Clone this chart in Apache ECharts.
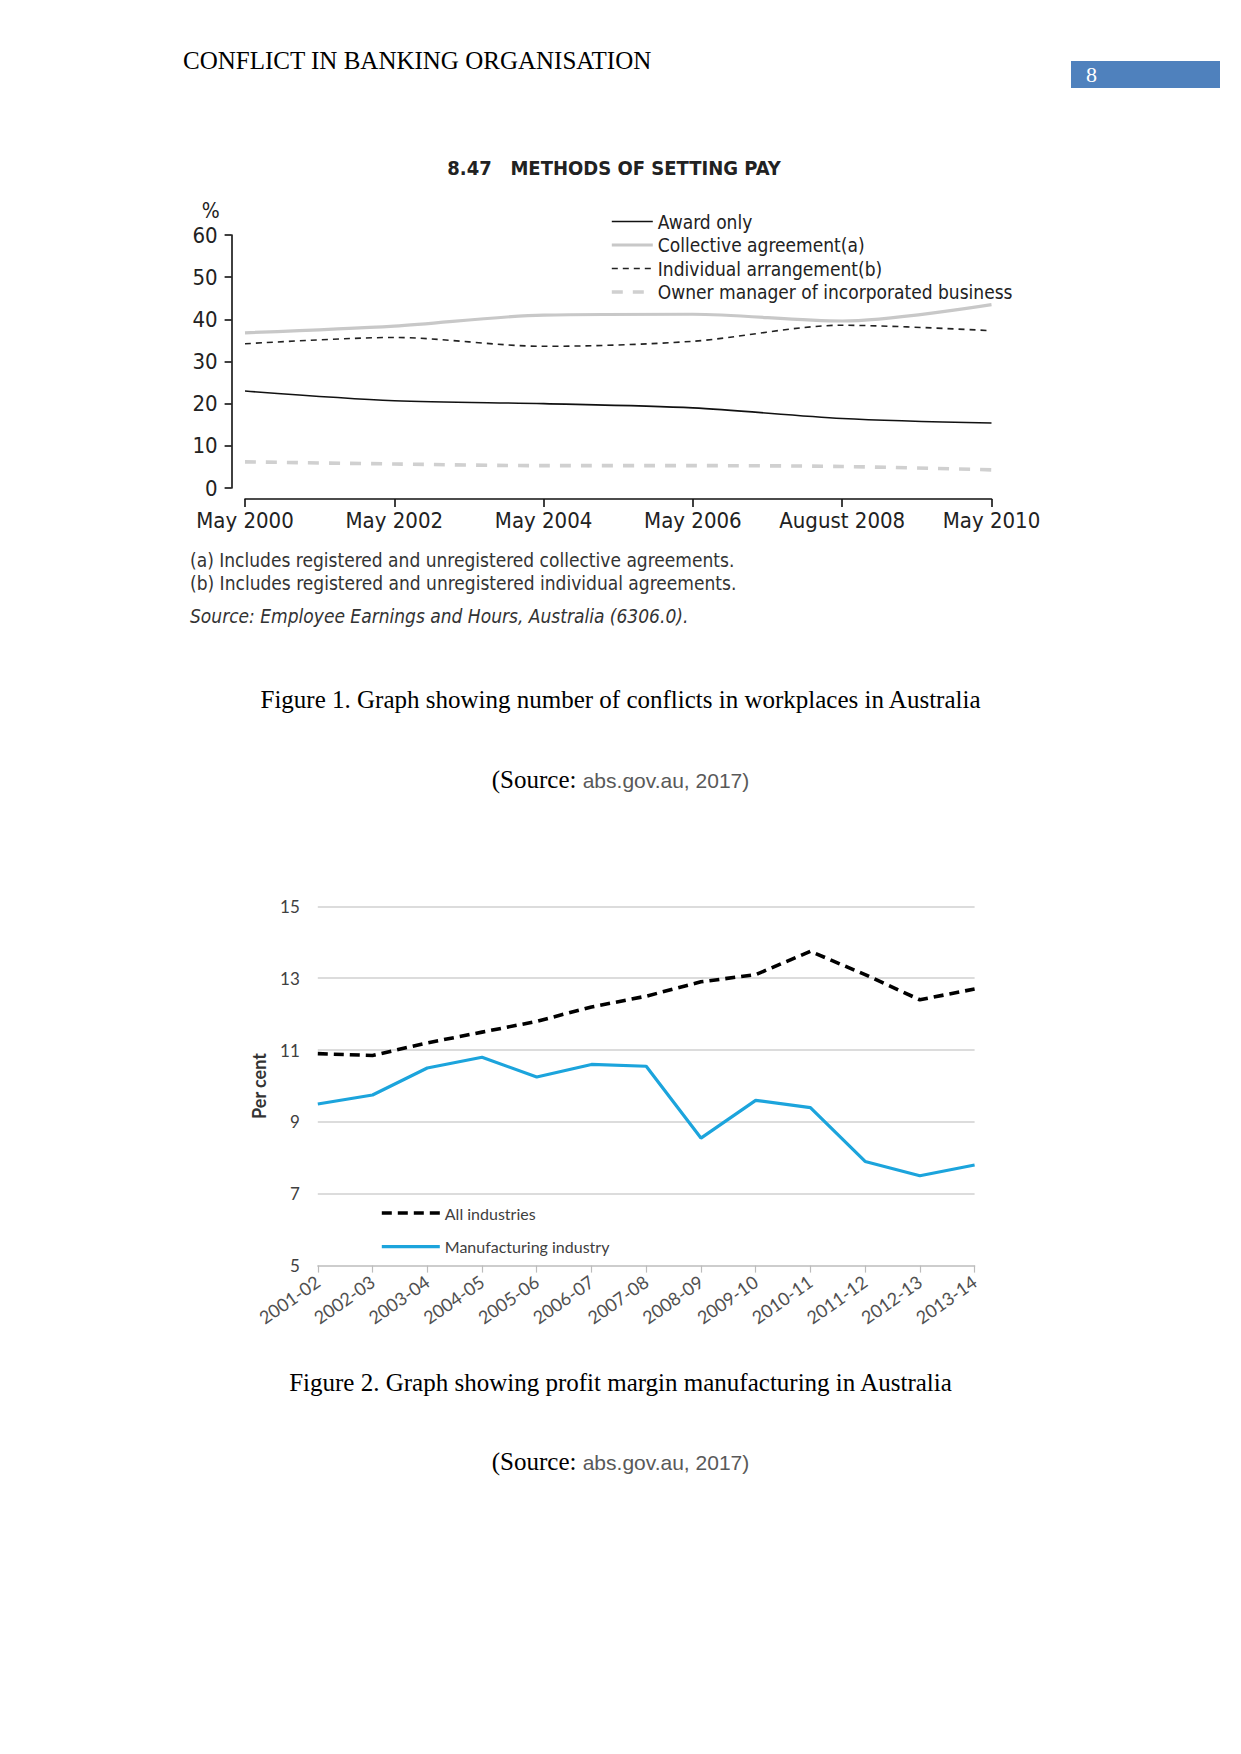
<!DOCTYPE html>
<html>
<head>
<meta charset="utf-8">
<script src="https://cdn.jsdelivr.net/npm/echarts@6/dist/echarts.min.js"></script>
<style>
  html, body { margin:0; padding:0; background:#fff; }
  #page { position:relative; width:1241px; height:1754px; overflow:hidden; background:#fff; }
  #chart { position:absolute; left:0; top:0; width:1241px; height:1754px; }
  .t { position:absolute; white-space:nowrap; }
  .serif { font-family:"Liberation Serif","Times New Roman",serif; color:#000; }
  .narrow { font-family:"Liberation Sans Narrow","DejaVu Sans Condensed","Arial Narrow",sans-serif; color:#333; }
</style>
</head>
<body>
<div id="page">
  <div id="chart"></div>
  <div class="t serif" style="left:183px;top:46px;font-size:25px;line-height:30px;">CONFLICT IN BANKING ORGANISATION</div>
  <div class="t" style="left:1071px;top:61px;width:149px;height:27px;background:#4F81BD;"></div>
  <div class="t serif" style="left:1086px;top:61px;font-size:22px;line-height:28px;color:#fff;">8</div>

  <div class="t narrow" style="left:190px;top:549px;font-size:19px;line-height:23px;">(a) Includes registered and unregistered collective agreements.</div>
  <div class="t narrow" style="left:190px;top:572px;font-size:19px;line-height:23px;">(b) Includes registered and unregistered individual agreements.</div>
  <div class="t narrow" style="left:190px;top:605px;font-size:19px;line-height:23px;font-style:italic;">Source: Employee Earnings and Hours, Australia (6306.0).</div>

  <div class="t serif" style="left:0;width:1241px;text-align:center;top:685px;font-size:25px;line-height:30px;">Figure 1. Graph showing number of conflicts in workplaces in Australia</div>
  <div class="t serif" style="left:0;width:1241px;text-align:center;top:765px;font-size:25px;line-height:30px;">(Source: <span style="font-family:'Liberation Sans',Arial,sans-serif;font-size:21px;color:#595959;">abs.gov.au, 2017)</span></div>

  <div class="t serif" style="left:0;width:1241px;text-align:center;top:1368px;font-size:25px;line-height:30px;">Figure 2. Graph showing profit margin manufacturing in Australia</div>
  <div class="t serif" style="left:0;width:1241px;text-align:center;top:1447px;font-size:25px;line-height:30px;">(Source: <span style="font-family:'Liberation Sans',Arial,sans-serif;font-size:21px;color:#595959;">abs.gov.au, 2017)</span></div>
</div>
<script>
// ---- Chart 1: Methods of setting pay ----
const payCategories = ['May 2000', 'May 2002', 'May 2004', 'May 2006', 'August 2008', 'May 2010'];
const awardOnly = [23.0, 20.7, 20.0, 19.0, 16.5, 15.4];
const collectiveAgreement = [36.8, 38.4, 41.0, 41.2, 39.6, 43.5];
const individualArrangement = [34.2, 35.7, 33.6, 34.8, 38.6, 37.3];
const ownerManager = [6.2, 5.7, 5.3, 5.3, 5.1, 4.3];
const payYMin = 0, payYMax = 60, payYInterval = 10;

// ---- Chart 2: Profit margin ----
const marginCategories = ['2001-02', '2002-03', '2003-04', '2004-05', '2005-06', '2006-07', '2007-08',
  '2008-09', '2009-10', '2010-11', '2011-12', '2012-13', '2013-14'];
const allIndustries = [10.9, 10.85, 11.2, 11.5, 11.8, 12.2, 12.5, 12.9, 13.1, 13.75, 13.1, 12.4, 12.7];
const manufacturingIndustry = [9.5, 9.75, 10.5, 10.8, 10.25, 10.6, 10.55, 8.55, 9.6, 9.4, 7.9, 7.5, 7.8];
const marginYMin = 5, marginYMax = 15, marginYInterval = 2;

const NARROW = '"Liberation Sans Narrow","DejaVu Sans Condensed","Arial Narrow",sans-serif';
const SANS2 = 'Lato,"Open Sans",sans-serif';

const chart = echarts.init(document.getElementById('chart'), null, { renderer: 'svg' });
chart.setOption({
  backgroundColor: 'transparent',
  animation: false,
  title: [{
    text: '8.47   METHODS OF SETTING PAY',
    left: 614, top: 158, textAlign: 'center', padding: 0,
    textStyle: { fontFamily: NARROW, fontSize: 20, fontWeight: 'bold', color: '#222' }
  }],
  legend: [{
    orient: 'vertical', left: 610, top: 212, padding: 0, itemWidth: 41, itemHeight: 14, itemGap: 4.5,
    itemStyle: { opacity: 0 },
    lineStyle: { width: 'inherit' },
    textStyle: { fontFamily: NARROW, fontSize: 19, lineHeight: 19, color: '#222' },
    data: ['Award only', 'Collective agreement(a)', 'Individual arrangement(b)', 'Owner manager of incorporated business']
  }, {
    orient: 'vertical', left: 380, top: 1205, padding: 0, itemWidth: 58, itemHeight: 14, itemGap: 17.6,
    itemStyle: { opacity: 0 },
    lineStyle: { width: 'inherit' },
    textStyle: { fontFamily: SANS2, fontSize: 16, lineHeight: 16, color: '#404040' },
    data: ['All industries', 'Manufacturing industry']
  }],
  grid: [
    { left: 245, right: 249.5, top: 235, height: 253, containLabel: false },
    { left: 317.8, right: 266.4, top: 906.4, height: 359.2, containLabel: false }
  ],
  xAxis: [{
    gridIndex: 0, type: 'category', data: payCategories, boundaryGap: false, offset: 11,
    axisLine: { onZero: false, lineStyle: { color: '#111', width: 1.6 } },
    axisTick: { show: true, length: 8, lineStyle: { color: '#111', width: 1.6 } },
    axisLabel: { margin: 10, fontFamily: NARROW, fontSize: 22, color: '#222', interval: 0 },
    splitLine: { show: false }
  }, {
    gridIndex: 1, type: 'category', data: marginCategories, boundaryGap: false,
    axisLine: { onZero: false, lineStyle: { color: '#c8c8c8', width: 1.5 } },
    axisTick: { show: true, length: 7, lineStyle: { color: '#bcbcbc', width: 1.2 } },
    axisLabel: { margin: 14, rotate: 35, fontFamily: SANS2, fontSize: 18, color: '#505050', interval: 0 },
    splitLine: { show: false }
  }],
  yAxis: [{
    gridIndex: 0, type: 'value', min: payYMin, max: payYMax, interval: payYInterval, offset: 13.4,
    name: '%', nameLocation: 'end', nameGap: 14,
    nameTextStyle: { fontFamily: NARROW, fontSize: 21, color: '#222', align: 'right', padding: [0, 12, 0, 0] },
    axisLine: { show: true, lineStyle: { color: '#111', width: 1.6 } },
    axisTick: { show: true, length: 7, lineStyle: { color: '#111', width: 1.6 } },
    axisLabel: { margin: 14, fontFamily: NARROW, fontSize: 22, color: '#222' },
    splitLine: { show: false }
  }, {
    gridIndex: 1, type: 'value', min: marginYMin, max: marginYMax, interval: marginYInterval,
    name: 'Per cent', nameLocation: 'middle', nameGap: 50, nameRotate: 90,
    nameTextStyle: { fontFamily: SANS2, fontSize: 18, fontWeight: 'bold', color: '#333' },
    axisLine: { show: false }, axisTick: { show: false },
    axisLabel: { margin: 18, fontFamily: 'Lato,"Liberation Sans",sans-serif', fontSize: 17, color: '#404040' },
    splitLine: { show: true, lineStyle: { color: '#d0d0d0', width: 1.6 } }
  }],
  series: [{
    name: 'Award only', type: 'line', xAxisIndex: 0, yAxisIndex: 0, data: awardOnly,
    smooth: 0.3, symbol: 'none', lineStyle: { color: '#111', width: 1.6 }, itemStyle: { color: '#111' }, z: 5
  }, {
    name: 'Collective agreement(a)', type: 'line', xAxisIndex: 0, yAxisIndex: 0, data: collectiveAgreement,
    smooth: 0.3, symbol: 'none', lineStyle: { color: '#c8c8c8', width: 3.2 }, itemStyle: { color: '#c8c8c8' }
  }, {
    name: 'Individual arrangement(b)', type: 'line', xAxisIndex: 0, yAxisIndex: 0, data: individualArrangement,
    smooth: 0.3, symbol: 'none', lineStyle: { color: '#222', width: 1.6, type: [6, 5] }, itemStyle: { color: '#222' }, z: 4
  }, {
    name: 'Owner manager of incorporated business', type: 'line', xAxisIndex: 0, yAxisIndex: 0, data: ownerManager,
    smooth: 0.3, symbol: 'none', lineStyle: { color: '#d0d0d0', width: 3.6, type: [11, 10] }, itemStyle: { color: '#d0d0d0' }
  }, {
    name: 'All industries', type: 'line', xAxisIndex: 1, yAxisIndex: 1, data: allIndustries,
    symbol: 'none', lineStyle: { color: '#000', width: 3.6, type: [10, 6] }, itemStyle: { color: '#000' }, z: 5
  }, {
    name: 'Manufacturing industry', type: 'line', xAxisIndex: 1, yAxisIndex: 1, data: manufacturingIndustry,
    symbol: 'none', lineStyle: { color: '#1ca4dc', width: 3.2 }, itemStyle: { color: '#1ca4dc' }
  }]
});
</script>
</body>
</html>
